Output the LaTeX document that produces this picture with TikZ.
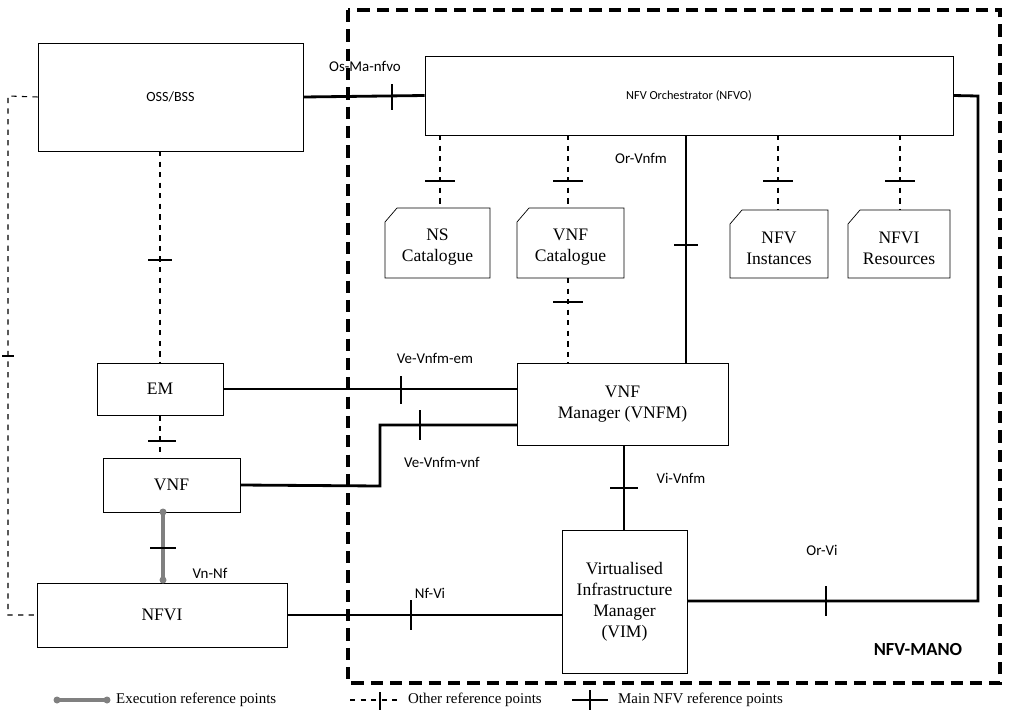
\documentclass[tikz,border=0pt]{standalone}
\usepackage{fontspec}
\setmainfont{Liberation Serif}
\newfontfamily\lab{Carlito}
\begin{document}
\begin{tikzpicture}[x=0.02cm,y=-0.02cm,
 box/.style={draw,thin,fill=white,align=center,inner sep=0pt,font=\fontsize{10}{12}\selectfont},
 mainl/.style={line width=1.6pt},
 oth/.style={dashed,semithick},
 exe/.style={line width=1.8pt,gray},
 lbl/.style={font=\lab\fontsize{8.5}{10}\selectfont},
 tk/.style={semithick}]
\useasboundingbox (0,0) rectangle (1012,717);
\draw[line width=2pt,dash pattern=on 7pt off 4pt] (348,10) rectangle (1000,683);
\node[font=\lab\bfseries\fontsize{10.5}{12}\selectfont] (mano) at (918,650) {NFV-MANO};
% boxes
\node[box,font=\lab\fontsize{8}{10}\selectfont,minimum width=5.3cm,minimum height=2.16cm] (oss) at (170.5,97) {OSS/BSS};
\node[box,font=\lab\fontsize{7}{9}\selectfont,minimum width=10.56cm,minimum height=1.58cm] (nfvo) at (689,95.5) {NFV Orchestrator (NFVO)};
\node[box,minimum width=4.22cm,minimum height=1.64cm] (vnfm) at (622.5,404) {VNF\\Manager (VNFM)};
\node[box,minimum width=2.52cm,minimum height=1.04cm] (em) at (160,389) {EM};
\node[box,minimum width=2.74cm,minimum height=1.08cm] (vnf) at (171.5,485) {VNF};
\node[box,minimum width=5cm,minimum height=1.28cm] (nfvi) at (162,615) {NFVI};
\node[box,minimum width=2.5cm,minimum height=2.86cm] (vim) at (624.5,601.5) {Virtualised\\Infrastructure\\Manager\\(VIM)};
% catalogues
\foreach \n/\a/\b/\t/\txt in {ns/385/490/208/NS\\Catalogue, vc/517/624/208/VNF\\Catalogue, ni/730/828/210/NFV\\Instances, nr/848/950/210/NFVI\\Resources}{
 \draw[thin,fill=white] (\a+12,\t) -- (\b,\t) -- (\b,278) -- (\a,278) -- (\a,\t+14) -- cycle;
 \node[align=center,font=\fontsize{10}{12}\selectfont] (\n) at ({(\a+\b)/2},{(\t+278)/2+4}) {\txt};
}
\coordinate (nsT) at (440,208); \coordinate (vcT) at (568,208);
\coordinate (niT) at (778,210); \coordinate (nrT) at (900,210);
\foreach \c/\x in {nsT/440,vcT/568,niT/778,nrT/900}{
 \draw[oth] (\x,135) -- (\c);
 \draw[tk] (\x-15,181) -- (\x+15,181);
}
% Os-Ma-nfvo
\draw[mainl] (oss.east) -- (nfvo.west);
\draw[tk] (392,84) -- (392,110);
\node[lbl] at (365,66) {Os-Ma-nfvo};
% Or-Vnfm
\draw[mainl] (686,135) -- (686,363);
\draw[mainl] (674,245) -- (698,245);
\node[lbl] at (641,158) {Or-Vnfm};
% VNF cat - VNFM
\coordinate (vcB) at (568,278);
\draw[oth] (vcB) -- (568,363);
\draw[tk] (553,302) -- (583,302);
% OSS - EM - VNF
\draw[oth] (160,151) -- (em.north);
\draw[mainl] (148,260) -- (172,260);
\draw[oth] (em.south) -- (160,458);
\draw[mainl] (148,441) -- (176,441);
% Ve-Vnfm-em
\draw[mainl] (em.east) -- (517,389);
\draw[tk] (401,376) -- (401,404);
\node[lbl] at (435,358) {Ve-Vnfm-em};
% Ve-Vnfm-vnf
\draw[mainl] (vnf.east) -- (380,486) -- (380,425) -- (517,425);
\draw[tk] (420,410) -- (420,440);
\node[lbl] at (442,462) {Ve-Vnfm-vnf};
% Vi-Vnfm
\draw[mainl] (624,445) -- (624,530);
\draw[mainl] (610,488) -- (638,488);
\node[lbl] at (681,478) {Vi-Vnfm};
% Vn-Nf
\draw[exe] (163,512) -- (163,580);
\fill[gray] (163,512) circle (3.5); \fill[gray] (163,580) circle (3.5);
\draw[mainl] (150,548) -- (176,548);
\node[lbl] at (210,573) {Vn-Nf};
% Nf-Vi
\draw[mainl] (nfvi.east) -- (562,615);
\draw[tk] (411,600) -- (411,630);
\node[lbl] at (430,593) {Nf-Vi};
% Or-Vi
\draw[mainl] (687,601) -- (978,601) -- (978,96) -- (nfvo.east);
\draw[tk] (826,586) -- (826,616);
\node[lbl] at (822,550) {Or-Vi};
% left loop
\draw[oth] (oss.west) -- (8,96) -- (8,615) -- (nfvi.west);
\draw[tk] (2,356) -- (14,356);
% legend
\draw[exe] (57,700) -- (107,700);
\fill[gray] (57,700) circle (3.5); \fill[gray] (107,700) circle (3.5);
\node[anchor=west,font=\fontsize{8.5}{10}\selectfont] at (110,700) {Execution reference points};
\draw[oth] (350,700) -- (398,700); \draw[tk] (380,692) -- (380,710);
\node[anchor=west,font=\fontsize{8.5}{10}\selectfont] at (402,700) {Other reference points};
\draw[mainl] (572,700) -- (608,700); \draw[mainl] (590,690) -- (590,710);
\node[anchor=west,font=\fontsize{8.5}{10}\selectfont] at (612,700) {Main NFV reference points};
\end{tikzpicture}
\end{document}
